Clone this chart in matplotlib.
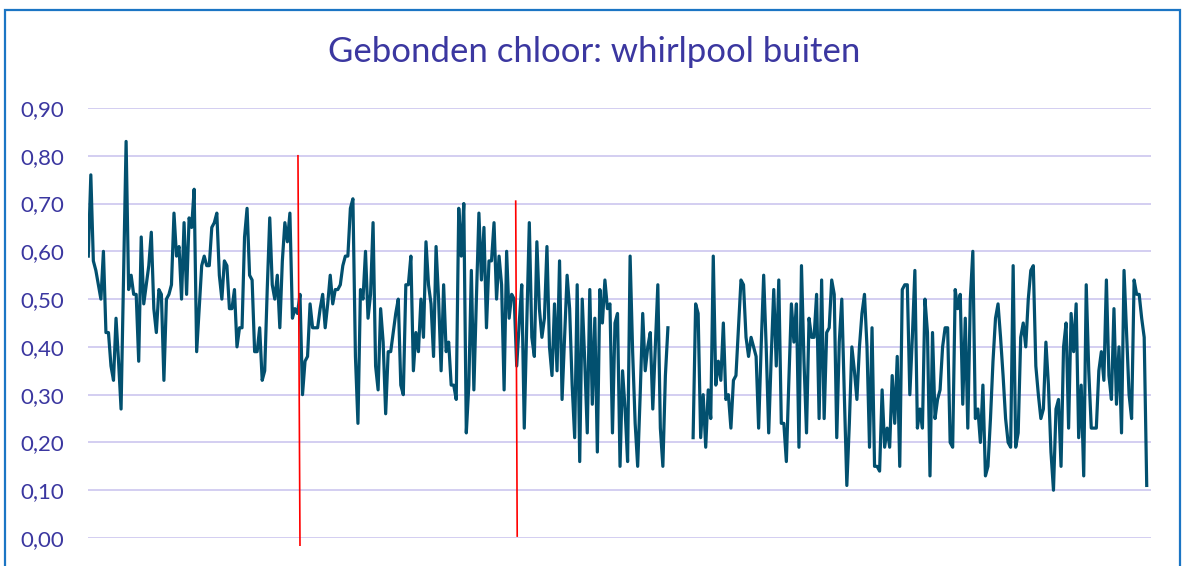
import numpy as np
import matplotlib
matplotlib.use("Agg")
import matplotlib.pyplot as plt
from matplotlib.patches import Rectangle
from matplotlib.ticker import FuncFormatter

# ---- data ----
seg1 = [0.59, 0.76, 0.58, 0.56, 0.53, 0.50, 0.60, 0.43, 0.43, 0.36,
        0.33, 0.46, 0.37, 0.27, 0.55, 0.83, 0.52, 0.55, 0.51, 0.51,
        0.37, 0.63, 0.49, 0.53, 0.57, 0.64, 0.48, 0.43, 0.52, 0.51,
        0.33, 0.50, 0.51, 0.53, 0.68, 0.59, 0.61, 0.50, 0.66, 0.51,
        0.67, 0.65, 0.73, 0.39, 0.48, 0.57, 0.59, 0.57, 0.57, 0.65,
        0.66, 0.68, 0.55, 0.50, 0.58, 0.57, 0.48, 0.48, 0.52, 0.40,
        0.44, 0.44]
seg2 = [0.63, 0.69, 0.55, 0.54, 0.39, 0.39, 0.44, 0.33, 0.35, 0.52,
        0.67, 0.53, 0.50, 0.55, 0.44, 0.58, 0.66, 0.62, 0.68, 0.46,
        0.48, 0.47, 0.51, 0.30, 0.37, 0.38, 0.49, 0.44, 0.44, 0.44,
        0.48, 0.51, 0.44, 0.49, 0.55, 0.49, 0.52, 0.52, 0.53, 0.57,
        0.59, 0.59, 0.69, 0.71, 0.38, 0.24, 0.52, 0.50, 0.60, 0.46,
        0.51, 0.66, 0.36, 0.31, 0.48, 0.41, 0.26, 0.39, 0.39, 0.43,
        0.47, 0.50]
seg3 = [0.32, 0.30, 0.53, 0.53, 0.59, 0.35, 0.43, 0.39, 0.50, 0.42,
        0.62, 0.53, 0.49, 0.38, 0.61, 0.50, 0.35, 0.53, 0.39, 0.41,
        0.32, 0.32, 0.29, 0.69, 0.59, 0.70, 0.22, 0.32, 0.56, 0.31,
        0.50, 0.68, 0.54, 0.65, 0.44, 0.58, 0.58, 0.66, 0.50, 0.59,
        0.53, 0.31, 0.60, 0.46, 0.51, 0.50, 0.36, 0.45, 0.53, 0.23,
        0.45, 0.66, 0.42, 0.38, 0.62, 0.48, 0.42, 0.46, 0.61]
seg4 = [0.40, 0.34, 0.49, 0.35, 0.58, 0.29, 0.42, 0.55, 0.48, 0.32,
        0.21, 0.53, 0.16, 0.50, 0.37, 0.22, 0.52, 0.28, 0.46, 0.18,
        0.52, 0.45, 0.54, 0.48, 0.49, 0.22, 0.45, 0.47, 0.15, 0.35,
        0.27, 0.16, 0.59, 0.39, 0.24, 0.15, 0.30, 0.47, 0.35, 0.40,
        0.43, 0.27, 0.40, 0.53, 0.23, 0.15, 0.34, 0.44]
gap = [None] * 9
seg5 = [0.21, 0.49, 0.47, 0.21, 0.30, 0.19,
        0.31, 0.25, 0.59, 0.32, 0.37, 0.33, 0.45, 0.29, 0.30, 0.23,
        0.33, 0.34, 0.44, 0.54, 0.53, 0.42, 0.38, 0.42, 0.40, 0.38,
        0.23, 0.40, 0.55, 0.40, 0.22, 0.38, 0.52, 0.36, 0.54, 0.24,
        0.24, 0.16, 0.33, 0.49, 0.41, 0.49, 0.19, 0.57, 0.37, 0.22,
        0.46, 0.42, 0.42, 0.51, 0.25, 0.54, 0.25, 0.43, 0.44, 0.54,
        0.51, 0.21, 0.41, 0.50, 0.30, 0.11, 0.24, 0.40, 0.35, 0.29,
        0.40, 0.47, 0.51]
seg6 = [0.40, 0.19, 0.44, 0.15, 0.15, 0.14, 0.31, 0.19, 0.23, 0.19,
        0.34, 0.24, 0.38, 0.15, 0.52, 0.53, 0.53, 0.30, 0.42, 0.56,
        0.23, 0.27, 0.23, 0.50, 0.43, 0.13, 0.43, 0.25, 0.29, 0.31,
        0.40, 0.44, 0.44, 0.20, 0.19, 0.52, 0.48, 0.51, 0.28, 0.46,
        0.23, 0.50, 0.60, 0.25, 0.27, 0.20, 0.32, 0.13, 0.15, 0.25,
        0.37, 0.46, 0.49, 0.42, 0.34, 0.25, 0.20, 0.19, 0.57, 0.19]
seg7 = [0.22, 0.42, 0.45, 0.40, 0.50, 0.56, 0.57, 0.36, 0.30, 0.25,
        0.27, 0.41, 0.32, 0.18, 0.10, 0.27, 0.29, 0.15, 0.40, 0.45,
        0.23, 0.47, 0.39, 0.49, 0.21, 0.32, 0.13, 0.53, 0.35, 0.23,
        0.23, 0.23, 0.35, 0.39, 0.33, 0.54, 0.34, 0.29, 0.48, 0.28,
        0.40, 0.22, 0.56, 0.43, 0.30, 0.25, 0.54, 0.51, 0.51, 0.46,
        0.42, 0.11]

values = seg1 + seg2 + seg3 + seg4 + gap + seg5 + seg6 + seg7
yticks = [0.0, 0.1, 0.2, 0.3, 0.4, 0.5, 0.6, 0.7, 0.8, 0.9]
title = "Gebonden chloor: whirlpool buiten"

# red marker lines: (x_top, x_bottom, y_top, y_bottom) in data units
marker_x_top = [83.2, 169.6]
marker_x_bot = [84.0, 170.2]
marker_y_top = [0.80, 0.705]
marker_y_bot = [-0.015, 0.004]

# ---- plot ----
plt.rcParams['font.family'] = ['Lato', 'DejaVu Sans']
W, H = 1182, 566
fig = plt.figure(figsize=(W / 100, H / 100), dpi=100)
fig.patch.set_facecolor('white')

ax = fig.add_axes([88 / W, (H - 538) / H, (1151 - 88) / W, (538 - 108) / H])
y = np.array([np.nan if v is None else v for v in values], dtype=float)
x = np.arange(len(y))
ax.plot(x, y, color='#02506F', lw=2.3, solid_joinstyle='round', zorder=3)

for xt, xb, yt, yb in zip(marker_x_top, marker_x_bot, marker_y_top, marker_y_bot):
    ax.plot([xt, xb], [yt, yb], color='#FF0000', lw=1.2, clip_on=False, zorder=4)

ax.set_xlim(-0.12, 421.7)
ax.set_ylim(0, 0.9)
ax.set_yticks(yticks)
ax.yaxis.set_major_formatter(FuncFormatter(lambda v, p: f"{v:.2f}".replace('.', ',')))
ax.set_xticks([])
ax.grid(axis='y', color='#D0CAF0', lw=1.3, zorder=0)
ax.set_axisbelow(True)
for s in ax.spines.values():
    s.set_visible(False)
ax.tick_params(axis='y', length=0, pad=17, labelsize=16, labelcolor='#3B37A0')

fig.text(594 / W, 1 - 52 / H, title, ha='center', va='center',
         fontsize=25, color='#3B37A0')

fig.patches.append(Rectangle((5 / W, -0.1), (1180 - 5) / W, 1.1 - 10 / H,
                             transform=fig.transFigure, fill=False,
                             edgecolor='#1B75C4', lw=1.6, figure=fig))

fig.savefig('out.png', dpi=100)
